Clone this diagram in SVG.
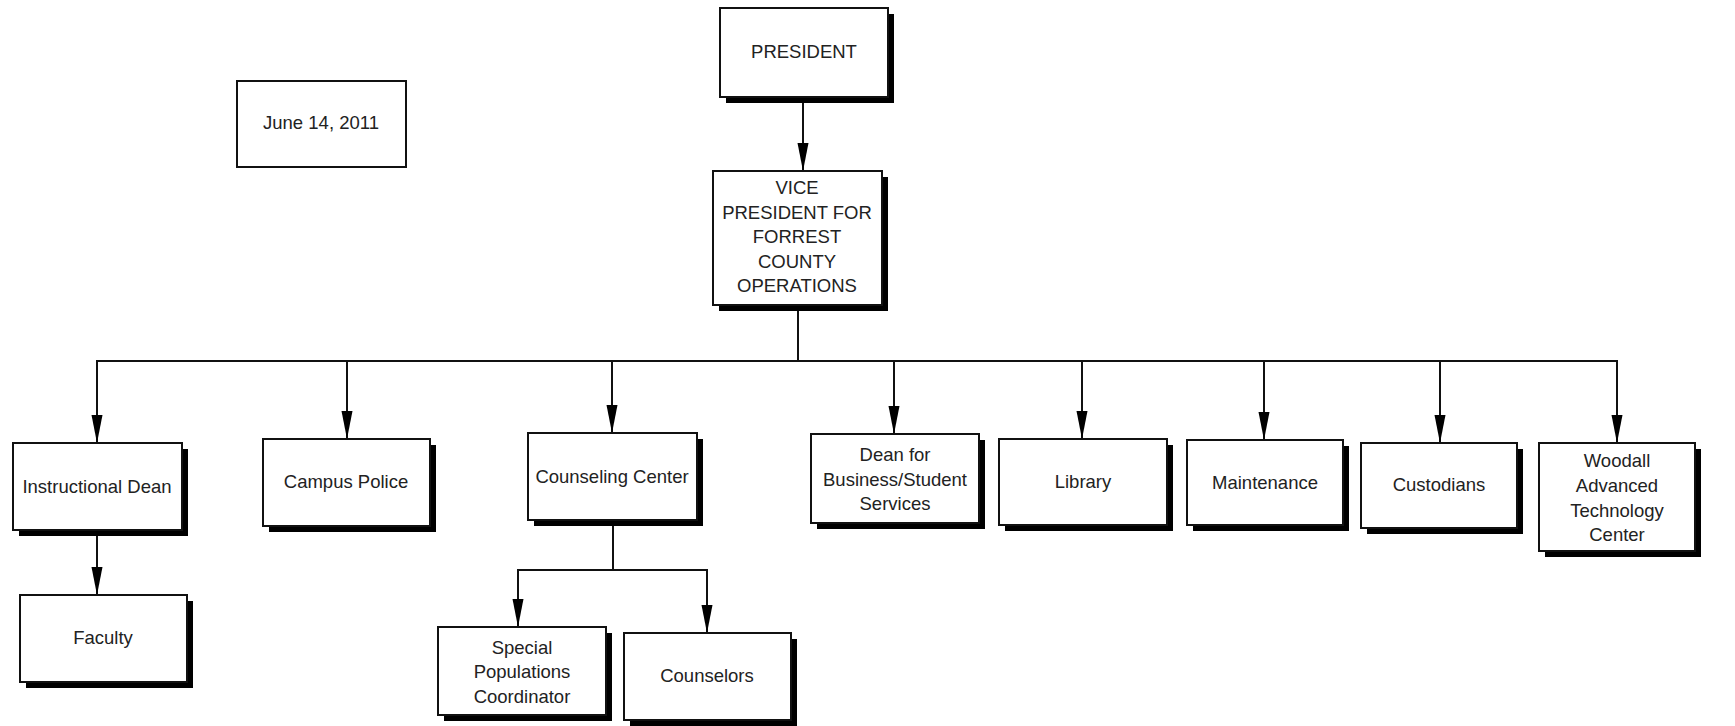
<svg xmlns="http://www.w3.org/2000/svg" width="1735" height="726" viewBox="0 0 1735 726">
<style>
.box{fill:#fff;stroke:#111;stroke-width:2}
.sh{fill:#000}
.t{font-family:"Liberation Sans",Arial,sans-serif;font-size:18.5px;fill:#222;text-anchor:middle}
.c{fill:none;stroke:#111;stroke-width:2}
</style>
<defs>
<marker id="ah" markerUnits="userSpaceOnUse" markerWidth="29" markerHeight="12" viewBox="0 0 29 12" refX="28" refY="6" orient="auto">
<path d="M0,0.5 L28,6 L0,11.5 Z" fill="#000"/>
</marker>
</defs>
<rect width="1735" height="726" fill="#fff"/>
<g id="connectors">
<line class="c" x1="803" y1="97" x2="803" y2="171" marker-end="url(#ah)"/>
<line class="c" x1="798" y1="305" x2="798" y2="361"/>
<line class="c" x1="96" y1="361" x2="1618" y2="361"/>
<line class="c" x1="97" y1="361" x2="97" y2="443" marker-end="url(#ah)"/>
<line class="c" x1="347" y1="361" x2="347" y2="439" marker-end="url(#ah)"/>
<line class="c" x1="612" y1="361" x2="612" y2="433" marker-end="url(#ah)"/>
<line class="c" x1="894" y1="361" x2="894" y2="434" marker-end="url(#ah)"/>
<line class="c" x1="1082" y1="361" x2="1082" y2="439" marker-end="url(#ah)"/>
<line class="c" x1="1264" y1="361" x2="1264" y2="440" marker-end="url(#ah)"/>
<line class="c" x1="1440" y1="361" x2="1440" y2="443" marker-end="url(#ah)"/>
<line class="c" x1="1617" y1="361" x2="1617" y2="443" marker-end="url(#ah)"/>
<line class="c" x1="97" y1="530" x2="97" y2="595" marker-end="url(#ah)"/>
<line class="c" x1="613" y1="520" x2="613" y2="570"/>
<line class="c" x1="517" y1="570" x2="708" y2="570"/>
<line class="c" x1="518" y1="570" x2="518" y2="627" marker-end="url(#ah)"/>
<line class="c" x1="707" y1="570" x2="707" y2="633" marker-end="url(#ah)"/>
</g>
<g id="president">
<rect class="sh" x="726" y="14" width="168" height="89"/>
<rect class="box" x="720" y="8" width="168" height="89"/>
<text class="t" x="804" y="58">PRESIDENT</text>
</g>
<g id="date">
<rect class="box" x="237" y="81" width="169" height="86"/>
<text class="t" x="321" y="129">June 14, 2011</text>
</g>
<g id="vp">
<rect class="sh" x="719" y="177" width="169" height="134"/>
<rect class="box" x="713" y="171" width="169" height="134"/>
<text class="t" x="797" y="194">VICE</text>
<text class="t" x="797" y="219">PRESIDENT FOR</text>
<text class="t" x="797" y="243">FORREST</text>
<text class="t" x="797" y="268">COUNTY</text>
<text class="t" x="797" y="292">OPERATIONS</text>
</g>
<g id="instructional-dean">
<rect class="sh" x="19" y="449" width="169" height="87"/>
<rect class="box" x="13" y="443" width="169" height="87"/>
<text class="t" x="97" y="493">Instructional Dean</text>
</g>
<g id="campus-police">
<rect class="sh" x="269" y="445" width="167" height="87"/>
<rect class="box" x="263" y="439" width="167" height="87"/>
<text class="t" x="346" y="488">Campus Police</text>
</g>
<g id="counseling-center">
<rect class="sh" x="534" y="439" width="169" height="87"/>
<rect class="box" x="528" y="433" width="169" height="87"/>
<text class="t" x="612" y="483">Counseling Center</text>
</g>
<g id="dean-business">
<rect class="sh" x="817" y="440" width="168" height="89"/>
<rect class="box" x="811" y="434" width="168" height="89"/>
<text class="t" x="895" y="461">Dean for</text>
<text class="t" x="895" y="486">Business/Student</text>
<text class="t" x="895" y="510">Services</text>
</g>
<g id="library">
<rect class="sh" x="1005" y="445" width="168" height="86"/>
<rect class="box" x="999" y="439" width="168" height="86"/>
<text class="t" x="1083" y="488">Library</text>
</g>
<g id="maintenance">
<rect class="sh" x="1193" y="446" width="156" height="85"/>
<rect class="box" x="1187" y="440" width="156" height="85"/>
<text class="t" x="1265" y="489">Maintenance</text>
</g>
<g id="custodians">
<rect class="sh" x="1367" y="449" width="156" height="85"/>
<rect class="box" x="1361" y="443" width="156" height="85"/>
<text class="t" x="1439" y="491">Custodians</text>
</g>
<g id="woodall">
<rect class="sh" x="1545" y="449" width="156" height="108"/>
<rect class="box" x="1539" y="443" width="156" height="108"/>
<text class="t" x="1617" y="467">Woodall</text>
<text class="t" x="1617" y="492">Advanced</text>
<text class="t" x="1617" y="517">Technology</text>
<text class="t" x="1617" y="541">Center</text>
</g>
<g id="faculty">
<rect class="sh" x="26" y="601" width="167" height="87"/>
<rect class="box" x="20" y="595" width="167" height="87"/>
<text class="t" x="103" y="644">Faculty</text>
</g>
<g id="special-populations">
<rect class="sh" x="444" y="633" width="168" height="88"/>
<rect class="box" x="438" y="627" width="168" height="88"/>
<text class="t" x="522" y="654">Special</text>
<text class="t" x="522" y="678">Populations</text>
<text class="t" x="522" y="703">Coordinator</text>
</g>
<g id="counselors">
<rect class="sh" x="630" y="639" width="167" height="87"/>
<rect class="box" x="624" y="633" width="167" height="87"/>
<text class="t" x="707" y="682">Counselors</text>
</g>
</svg>
